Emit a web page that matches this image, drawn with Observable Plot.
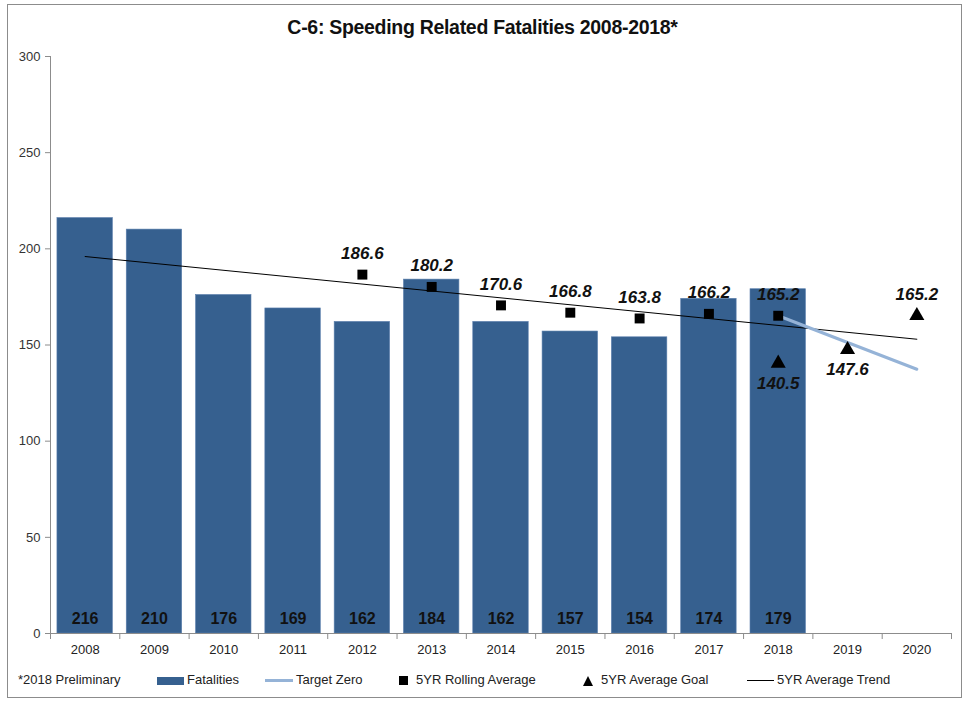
<!DOCTYPE html>
<html>
<head>
<meta charset="utf-8">
<script src="https://cdn.jsdelivr.net/npm/d3@7"></script>
<script src="https://cdn.jsdelivr.net/npm/@observablehq/plot@0.6"></script>
<style>
  html, body { margin: 0; padding: 0; background: #fff; }
  #wrap { position: relative; width: 965px; height: 701px; font-family: "Liberation Sans", Arial, sans-serif; color: #222; overflow: hidden; }
  #border { position: absolute; left: 7px; top: 4px; width: 955px; height: 694px; border: 1px solid #8c8c8c; box-sizing: border-box; }
  #title { position: absolute; left: 0; width: 965px; top: 16px; text-align: center; font-weight: bold; font-size: 19.5px; letter-spacing: -0.3px; color: #111; }
  #chart { position: absolute; left: 0; top: 0; }
  .leg { position: absolute; top: 672px; font-size: 13px; color: #222; white-space: nowrap; line-height: 16px; }
  .sw { display: inline-block; vertical-align: middle; }
</style>
</head>
<body>
<div id="wrap">
  <div id="border"></div>
  <div id="chart"></div>
  <div id="title">C-6: Speeding Related Fatalities 2008-2018*</div>
  <div class="leg" style="left:18px;">*2018 Preliminary</div>
  <div class="leg" style="left:157px;"><span class="sw" style="width:27px;height:8px;background:#36608F;margin-right:3px;"></span>Fatalities</div>
  <div class="leg" style="left:265px;"><span class="sw" style="width:28px;height:3px;background:#95B3D7;margin-right:3px;"></span>Target Zero</div>
  <div class="leg" style="left:399px;"><span class="sw" style="width:9px;height:9px;background:#000;margin-right:8px;"></span>5YR Rolling Average</div>
  <div class="leg" style="left:583px;"><span class="sw" style="width:0;height:0;border-left:5px solid transparent;border-right:5px solid transparent;border-bottom:10px solid #000;margin-right:8px;"></span>5YR Average Goal</div>
  <div class="leg" style="left:747px;"><span class="sw" style="width:27px;height:1px;background:#000;margin-right:3px;"></span>5YR Average Trend</div>
</div>
<script>
const years = [2008, 2009, 2010, 2011, 2012, 2013, 2014, 2015, 2016, 2017, 2018, 2019, 2020];
const fatalityYears = [2008, 2009, 2010, 2011, 2012, 2013, 2014, 2015, 2016, 2017, 2018];
const fatalities = [216, 210, 176, 169, 162, 184, 162, 157, 154, 174, 179];
const rollingYears = [2012, 2013, 2014, 2015, 2016, 2017, 2018];
const rollingAvg = [186.6, 180.2, 170.6, 166.8, 163.8, 166.2, 165.2];
const goalYears = [2018, 2019, 2020];
const goals = [140.5, 147.6, 165.2];
const trendYears = [2008, 2020];
const trend = [196, 153];
const targetYears = [2018, 2019, 2020];
const targetZero = [165.2, 151.3, 137.4];
const yTicks = [0, 50, 100, 150, 200, 250, 300];

const fat = fatalityYears.map((year, i) => ({year, value: fatalities[i]}));
const roll = rollingYears.map((year, i) => ({year, value: rollingAvg[i]}));
const goal = goalYears.map((year, i) => ({year, value: goals[i]}));
const tr = trendYears.map((year, i) => ({year, value: trend[i]}));
const tz = targetYears.map((year, i) => ({year, value: targetZero[i]}));
const xDomain = [years[0] - 0.5, years[years.length - 1] + 0.5];
const boundaries = years.map(y => y - 0.5).concat([xDomain[1]]);

const barColor = "#36608F";
const axisColor = "#8c8c8c";

const chart = Plot.plot({
  width: 965,
  height: 665,
  marginLeft: 50,
  marginRight: 14,
  marginTop: 56,
  marginBottom: 32,
  style: {fontFamily: "'Liberation Sans', Arial, sans-serif", fontSize: "13px", background: "transparent", overflow: "visible"},
  x: {type: "linear", domain: xDomain, axis: null},
  y: {domain: [0, 300], axis: null},
  marks: [
    Plot.rectY(fat, {x1: d => d.year - 0.4, x2: d => d.year + 0.4, y: "value", fill: barColor, stroke: "#5b7fad", strokeWidth: 0.6}),
    Plot.text(fat, {x: "year", y: () => 0, text: d => String(d.value), dy: -15, fontWeight: "bold", fontSize: 16, fill: "#111"}),
    Plot.line(tr, {x: "year", y: "value", stroke: "#000", strokeWidth: 1}),
    Plot.line(tz, {x: "year", y: "value", stroke: "#95B3D7", strokeWidth: 3}),
    Plot.dot(roll, {x: "year", y: "value", symbol: "square", r: 5.6, fill: "#000"}),
    Plot.text(roll, {x: "year", y: "value", text: d => d.value.toFixed(1), dy: -21, fontWeight: "bold", fontStyle: "italic", fontSize: 17, fill: "#111"}),
    Plot.dot(goal, {x: "year", y: "value", symbol: "triangle", r: 5.6, fill: "#000"}),
    Plot.text(goal, {filter: d => d.year < 2020, x: "year", y: "value", text: d => d.value.toFixed(1), dy: 20, fontWeight: "bold", fontStyle: "italic", fontSize: 17, fill: "#111"}),
    Plot.text(goal, {filter: d => d.year === 2020, x: "year", y: "value", text: d => d.value.toFixed(1), dy: -21, fontWeight: "bold", fontStyle: "italic", fontSize: 17, fill: "#111"}),
    Plot.ruleY([0], {stroke: axisColor}),
    Plot.ruleX([xDomain[0]], {stroke: axisColor}),
    Plot.axisY({ticks: yTicks, tickSize: 5, tickPadding: 5, stroke: axisColor, fill: "#333", fontSize: 13, label: null}),
    Plot.axisX({ticks: years, tickSize: 0, tickPadding: 11, tickFormat: d => String(d), fill: "#222", fontSize: 13, label: null}),
    Plot.axisX({ticks: boundaries, tickSize: 6, tickFormat: () => "", stroke: axisColor, label: null})
  ]
});
document.getElementById("chart").appendChild(chart);
</script>
</body>
</html>
